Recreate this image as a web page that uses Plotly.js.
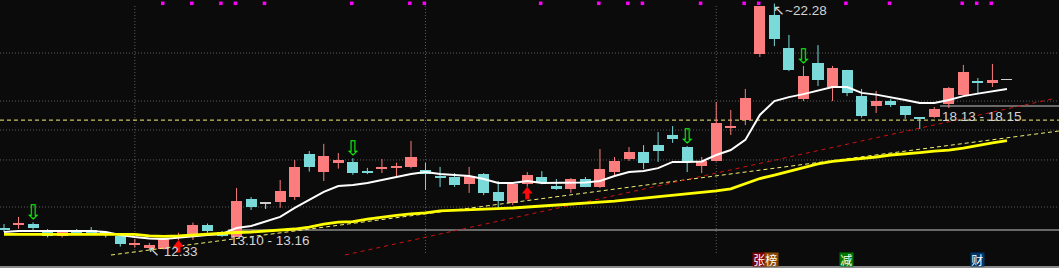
<!DOCTYPE html>
<html><head><meta charset="utf-8">
<script src="https://cdn.plot.ly/plotly-3.0.1.min.js"></script>
<style>html,body{margin:0;padding:0;background:#0b0b0b;overflow:hidden}#chart{width:1059px;height:268px}</style>
</head><body><div id="chart"></div>
<script>
// ---- data ----
const openP  = [13.23,13.32,13.37,13.13,12.87,13.10,13.13,13.05,12.87,12.51, 12.42,12.35,12.79,12.85,13.33,13.05,12.86,14.38,14.19,14.26, 14.48,16.20,15.49,15.85,15.88,15.53,15.61,15.65,15.69,15.55, 15.32,15.27,15.00,15.39,14.67,14.22,14.99,15.27,14.91,14.79, 15.19,14.87,15.47,16.00,16.28,16.56,16.97,16.48,15.73,15.91, 17.25,17.58,20.24,21.82,20.48,18.42,19.88,18.92,19.60,18.54, 18.14,18.34,18.14,17.66,17.70,18.22,18.58,19.15,19.07,19.19];
const highP  = [13.37,13.66,13.44,13.17,13.13,13.17,13.25,13.09,12.89,12.77, 12.61,12.76,13.02,13.43,13.39,13.09,14.83,14.46,14.26,15.15, 15.96,16.32,16.61,16.24,16.03,15.64,16.00,15.85,16.73,15.84, 15.68,15.43,15.68,15.43,15.11,15.03,15.47,15.51,15.19,15.23, 15.27,16.40,16.08,16.48,16.56,17.09,17.33,16.52,16.08,18.30, 17.98,18.83,22.18,22.28,21.01,19.76,20.60,19.76,19.60,18.83, 18.75,18.42,18.14,17.66,18.10,18.91,19.80,19.27,19.84,19.19];
const lowP   = [13.05,13.18,13.13,12.83,12.83,12.94,12.94,12.83,12.46,12.42, 12.33,12.34,12.73,12.73,13.02,12.85,12.85,13.94,13.98,14.03, 14.34,15.49,15.11,15.61,15.36,15.39,15.43,15.31,15.62,14.75, 14.87,14.87,14.63,14.54,13.98,14.14,14.88,14.98,14.75,14.63, 14.86,14.83,15.31,15.92,15.59,15.88,16.65,15.47,15.43,15.90, 16.97,17.37,20.12,20.56,19.55,18.34,18.95,18.34,18.54,17.67, 17.86,18.10,17.62,17.21,17.66,18.06,18.58,18.62,18.91,19.19];
const closeP = [13.15,13.43,13.21,12.89,13.05,12.97,12.97,12.95,12.58,12.59, 12.52,12.75,12.85,13.33,13.09,12.89,14.30,14.06,14.19,14.71, 15.68,15.68,16.12,15.96,15.45,15.45,15.69,15.69,16.08,15.39, 15.24,14.95,15.31,14.63,14.30,14.99,15.35,15.03,14.79,15.19, 14.87,15.60,15.93,16.28,15.84,16.32,16.81,15.91,15.91,17.45, 17.33,18.46,22.18,20.85,19.60,19.35,19.19,19.68,18.67,17.74, 18.34,18.18,17.78,17.62,18.02,18.87,19.51,19.07,19.19,19.19];
const maShort = [13.05,13.09,13.09,13.09,13.09,13.09,13.09,13.05,12.93,12.85, 12.79,12.77,12.83,12.89,12.93,12.97,13.21,13.29,13.49,13.66, 14.02,14.34,14.67,14.91,14.95,15.03,15.15,15.25,15.39,15.47, 15.39,15.35,15.31,15.19,15.03,15.03,15.11,15.03,15.03,15.03, 15.05,15.11,15.31,15.47,15.51,15.63,15.88,15.88,15.90,16.16, 16.36,16.77,17.78,18.34,18.50,18.62,18.75,18.91,18.91,18.67, 18.60,18.50,18.38,18.26,18.26,18.38,18.54,18.64,18.73,18.83];
const maLong  = [12.95,12.95,12.95,12.95,12.95,12.95,12.95,12.95,12.95,12.95, 12.89,12.87,12.89,12.93,12.97,13.01,13.03,13.05,13.09,13.13, 13.17,13.25,13.37,13.45,13.47,13.57,13.66,13.72,13.78,13.82, 13.90,13.92,13.96,13.98,14.00,14.02,14.06,14.10,14.14,14.16, 14.20,14.26,14.30,14.36,14.42,14.48,14.54,14.58,14.64,14.71, 14.79,14.99,15.21,15.35,15.51,15.66,15.80,15.90,15.96,16.00, 16.08,16.16,16.20,16.26,16.32,16.36,16.44,16.56,16.65,16.74];
const trendYellowX = [7.36, 72.58], trendYellowY = [12.12, 17.13];
const trendRedX = [23.46, 72.37], trendRedY = [12.12, 18.46];
const supportLevel = 17.57;
const gapStart = [15.4, 64.4], gapLow = [13.10, 18.13], gapHigh = [13.16, 18.15];
const hiIdx = 53, hiVal = 22.28, loIdx = 10, loVal = 12.33;
const sellIdx = [2, 24, 47, 55];
const buyIdx = [12, 36];
const topMarkIdx = [11,13,15,16,18,24,28,29,37,41,43,44,48,51,52,58,61,66,67,68];
const topMarkLevel = 22.29;
const gridY = [20.28, 18.34, 17.17, 15.96, 14.06];
const gridX = [9, 29, 49];
const bottomTags = ['张榜', '减', '财'];
const bottomTagIdx = [52, 58, 67];
const bottomTagColors = [['#800000', '#8a4800'], ['#007800'], ['#00376e']];

// ---- build ----
const idx = openP.map((_, i) => i);
const UP = '#fc7d7d', DOWN = '#7ad9d9', FLAT = '#cfcfcf';
const XR = [-0.275, 72.58], YR = [11.595, 22.423];
const PX = 268 / (YR[1] - YR[0]); // pixels per price unit
const colorOf = i => closeP[i] > openP[i] ? UP : (closeP[i] < openP[i] ? DOWN : FLAT);

const wick = {}; [UP, DOWN, FLAT].forEach(c => wick[c] = {x: [], y: []});
idx.forEach(i => { const w = wick[colorOf(i)]; w.x.push(i, i, null); w.y.push(highP[i], lowP[i], null); });

const traces = [];
traces.push({type: 'bar', x: idx, base: idx.map(i => Math.min(openP[i], closeP[i])),
  y: idx.map(i => Math.max(Math.abs(closeP[i] - openP[i]), 0.06)), width: 0.76,
  marker: {color: idx.map(colorOf), line: {width: 0}}, hoverinfo: 'skip'});
[UP, DOWN, FLAT].forEach(c => traces.push({type: 'scatter', mode: 'lines', x: wick[c].x, y: wick[c].y,
  line: {color: c, width: 1}, hoverinfo: 'skip', connectgaps: false}));
traces.push({type: 'scatter', mode: 'lines', x: trendYellowX, y: trendYellowY, line: {color: '#f4f070', width: 1, dash: '4px,3px'}, hoverinfo: 'skip'});
traces.push({type: 'scatter', mode: 'lines', x: trendRedX, y: trendRedY, line: {color: '#d01010', width: 1, dash: '4px,4px'}, hoverinfo: 'skip'});
traces.push({type: 'scatter', mode: 'lines', x: idx, y: maShort, line: {color: '#ffffff', width: 2}, hoverinfo: 'skip'});
traces.push({type: 'scatter', mode: 'lines', x: idx, y: maLong, line: {color: '#ffff00', width: 2.8}, hoverinfo: 'skip'});
traces.push({type: 'scatter', mode: 'markers', x: topMarkIdx.map(i => i - 0.08), y: topMarkIdx.map(() => topMarkLevel),
  marker: {symbol: 'square', size: 3.5, color: '#ff00ff', line: {width: 0}}, hoverinfo: 'skip'});
traces.push({type: 'scatter', mode: 'text', x: sellIdx, y: sellIdx.map(i => highP[i] + 0.33), text: sellIdx.map(() => '⇩'),
  textfont: {family: 'DejaVu Sans', size: 20, color: '#12f012'}, textposition: 'middle center', hoverinfo: 'skip'});
// red buy arrows: stem + head, placed just below each candle's low
traces.push({type: 'scatter', mode: 'markers', x: buyIdx, y: buyIdx.map(i => lowP[i] - 8.8 / PX),
  marker: {symbol: 'line-ns', size: 5.5, color: '#ff0a0a', line: {width: 4, color: '#ff0a0a'}}, hoverinfo: 'skip'});
traces.push({type: 'scatter', mode: 'markers', x: buyIdx, y: buyIdx.map(i => lowP[i] - 4.6 / PX),
  marker: {symbol: 'triangle-up', size: 9.2, color: '#ff0a0a', line: {width: 0}}, hoverinfo: 'skip'});

const shapes = [];
gridY.forEach(v => shapes.push({type: 'line', xref: 'paper', yref: 'y', x0: 0, x1: 1, y0: v, y1: v, line: {color: '#5c5c5c', width: 1, dash: '1px,2px'}, layer: 'below'}));
gridX.forEach(v => shapes.push({type: 'line', xref: 'x', yref: 'paper', x0: v, x1: v, y0: 15 / 268, y1: 263 / 268, line: {color: '#5c5c5c', width: 1, dash: '1px,2px'}, layer: 'below'}));
shapes.push({type: 'line', xref: 'paper', yref: 'y', x0: 0, x1: 1, y0: supportLevel, y1: supportLevel, line: {color: '#f4f070', width: 1, dash: '4px,3px'}, layer: 'below'});
gapStart.forEach((g, k) => { const m = (gapLow[k] + gapHigh[k]) / 2;
  shapes.push({type: 'line', xref: 'x', yref: 'y', x0: g, x1: XR[1], y0: m, y1: m, line: {color: '#8a8a8a', width: 1.3}, layer: 'below'}); });
shapes.push({type: 'line', xref: 'paper', yref: 'paper', x0: 0, x1: 1, y0: 1 / 268, y1: 1 / 268, line: {color: '#8a8a8a', width: 2}});

const LF = {family: 'Liberation Sans, Arial, sans-serif', size: 13.5, color: '#d4d4d4'};
const annotations = [];
annotations.push({x: hiIdx, y: hiVal, xref: 'x', yref: 'y', text: '↖~' + hiVal.toFixed(2), showarrow: false, xanchor: 'left', yanchor: 'middle', xshift: -3, yshift: -6.5, font: LF});
annotations.push({x: loIdx, y: loVal, xref: 'x', yref: 'y', text: '↖ ' + loVal.toFixed(2), showarrow: false, xanchor: 'left', yanchor: 'middle', xshift: -3, yshift: -1.5, font: LF});
gapStart.forEach((g, k) => { const m = (gapLow[k] + gapHigh[k]) / 2;
  annotations.push({x: g, y: m, xref: 'x', yref: 'y', text: gapLow[k].toFixed(2) + ' - ' + gapHigh[k].toFixed(2), showarrow: false, xanchor: 'left', yanchor: 'middle', xshift: 0, yshift: -10.5, font: LF}); });
bottomTags.forEach((t, k) => { Array.from(t).forEach((ch, j) => {
  annotations.push({x: bottomTagIdx[k], y: 8.5 / 268, xref: 'x', yref: 'paper', text: ch, showarrow: false, xanchor: 'center', yanchor: 'middle',
    xshift: -0.8 + j * 12.5, width: 12.5, height: 13, borderpad: 0, bgcolor: bottomTagColors[k][j],
    font: {family: 'Noto Sans CJK SC', size: 12, color: '#ffffff'}}); }); });

const layout = {width: 1059, height: 268, margin: {l: 0, r: 0, t: 0, b: 0}, autosize: false,
  paper_bgcolor: '#0b0b0b', plot_bgcolor: '#0b0b0b', showlegend: false, barmode: 'overlay', bargap: 0,
  xaxis: {range: XR, visible: false, fixedrange: true}, yaxis: {range: YR, visible: false, fixedrange: true},
  shapes, annotations};
Plotly.newPlot('chart', traces, layout, {staticPlot: true, displayModeBar: false});
</script></body></html>
